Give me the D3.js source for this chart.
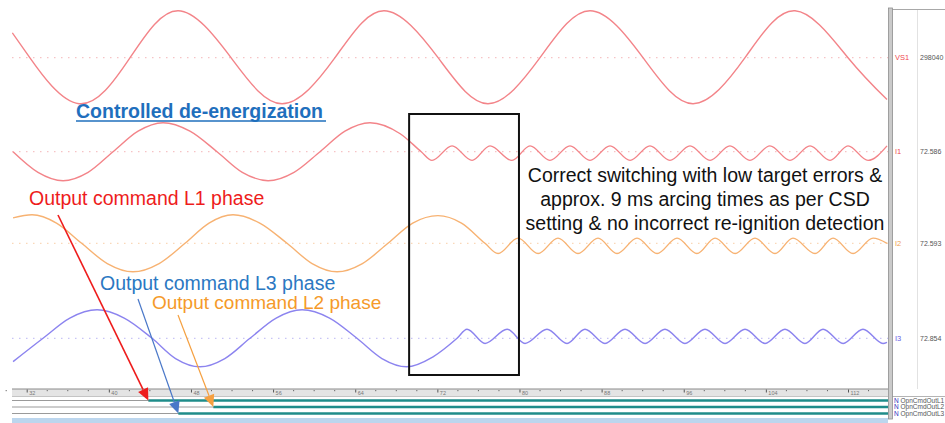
<!DOCTYPE html>
<html><head><meta charset="utf-8">
<script src="https://cdn.jsdelivr.net/npm/d3@7"></script>
<style>html,body{margin:0;padding:0;background:#fff;overflow:hidden}svg{display:block;font-family:"Liberation Sans",Arial,sans-serif}</style>
</head><body><svg id="c" width="945" height="423"></svg>
<script>
// ---------------- DATA (time in ms, values in per-unit of each channel scale) ----------------
const timeTicks = [32, 40, 48, 56, 64, 72, 80, 88, 96, 104, 112];

const channelNames = ["VS1", "I1", "I2", "I3"];
const channelScaleText = ["298040", "72.586", "72.593", "72.854"];

const vs1Time  = [30.6, 32.3, 37.1, 42.07, 46.74, 51.9, 56.87, 62.03, 66.8, 72.07, 76.93, 82.0, 86.87, 92.03, 96.9, 101.97, 106.84, 112.0, 115.8];
const vs1Value = [0.54, 0, -1.0, 0, 1.02, 0, -1.0, 0, 1.02, 0, -1.0, 0, 1.02, 0, -1.0, 0, 1.02, 0, -0.91];

const i1Time  = [30.67, 33.1, 35.54, 37.98, 40.41, 42.85, 45.28, 47.9, 50.54, 53.0, 55.51, 58.04, 60.57, 63.0, 65.44, 68.38, 70.43, 71.48, 73.43, 75.38, 77.13, 79.27, 81.03, 82.97, 84.92, 86.87, 88.82, 90.77, 92.71, 94.66, 96.61, 98.56, 100.5, 102.45, 104.4, 106.35, 108.3, 110.25, 112.0, 113.95, 115.8];
const i1Value = [0, -0.71, -1.0, -0.71, 0, 0.71, 1.0, 0.71, 0, -0.71, -1.0, -0.71, 0, 0.71, 1.0, 0.62, 0, -0.3, 0.2, -0.3, 0.2, -0.3, 0.2, -0.3, 0.2, -0.3, 0.2, -0.3, 0.2, -0.3, 0.2, -0.3, 0.2, -0.3, 0.2, -0.3, 0.2, -0.3, 0.2, -0.3, 0.2];

const i2Time  = [30.67, 32.52, 34.9, 37.35, 39.85, 42.35, 44.9, 47.42, 49.76, 52.10, 54.7, 57.36, 59.8, 62.23, 64.7, 67.19, 69.6, 72.06, 74.35, 76.64, 77.91, 79.86, 81.81, 83.75, 85.70, 87.65, 89.50, 91.45, 93.40, 95.35, 97.29, 99.05, 101.0, 102.94, 104.89, 106.64, 108.79, 110.54, 112.49, 114.44, 115.8];
const i2Value = [0.89, 1.0, 0.71, 0, -0.71, -1.0, -0.71, 0, 0.71, 1.0, 0.71, 0, -0.71, -1.0, -0.71, 0, 0.71, 0.97, 0.71, 0, -0.36, 0.18, -0.36, 0.18, -0.36, 0.18, -0.36, 0.18, -0.36, 0.18, -0.36, 0.18, -0.36, 0.18, -0.36, 0.18, -0.36, 0.18, -0.36, 0.18, 0.0];

const i3Time  = [30.67, 33.59, 36.2, 38.85, 41.5, 44.21, 46.5, 48.88, 51.3, 53.75, 56.3, 58.82, 61.5, 64.17, 66.6, 69.0, 71.58, 73.92, 74.89, 76.65, 78.79, 80.54, 82.68, 84.63, 86.38, 88.33, 90.28, 92.23, 94.17, 96.12, 98.07, 100.02, 101.97, 103.92, 105.86, 107.81, 109.57, 111.52, 113.46, 115.41, 115.8];
const i3Value = [-0.82, 0, 0.71, 1.0, 0.71, 0, -0.71, -1.0, -0.71, 0, 0.71, 1.0, 0.71, 0, -0.71, -1.0, -0.65, 0, 0.32, -0.18, 0.32, -0.18, 0.32, -0.18, 0.32, -0.18, 0.32, -0.18, 0.32, -0.18, 0.32, -0.18, 0.32, -0.18, 0.32, -0.18, 0.32, -0.18, 0.32, -0.18, -0.14];

const digitalNames  = ["OpnCmdOutL1", "OpnCmdOutL2", "OpnCmdOutL3"];
const digitalOnTime = [43.85, 50.18, 46.77];

const boxStart = 69.25, boxEnd = 79.95;
const titleText = "Controlled de-energization";
const noteLines = ["Correct switching with low target errors &", "approx. 9 ms arcing times as per CSD", "setting & no incorrect re-ignition detection"];
const cmdLabels = ["Output command L1 phase", "Output command L2 phase", "Output command L3 phase"];

// ---------------- DRAWING ----------------
const svg = d3.select("#c");
const plotL = 12, plotR = 888;
const x = d3.scaleLinear().domain([32, 112]).range([26.7, 848]);

svg.append("defs").append("clipPath").attr("id", "clip")
  .append("rect").attr("x", plotL).attr("y", 0).attr("width", plotR - plotL).attr("height", 386);

const chStyle = [
  {base: 57.7, amp: 46, color: "#f38489", dot: "#f6c3c5", label: "#f04a50", curve: d3.curveNatural},
  {base: 151.7, amp: 29, color: "#f38489", dot: "#f6c3c5", label: "#f04a50", curve: d3.curveMonotoneX},
  {base: 243.3, amp: 28.5, color: "#f7b272", dot: "#fad8b8", label: "#f0a050", curve: d3.curveMonotoneX},
  {base: 338.3, amp: 28.5, color: "#8c84ef", dot: "#c8c4f6", label: "#6a60e6", curve: d3.curveMonotoneX}
];
const chTimes = [vs1Time, i1Time, i2Time, i3Time];
const chValues = [vs1Value, i1Value, i2Value, i3Value];

const gPlot = svg.append("g").attr("clip-path", "url(#clip)");
chStyle.forEach((s, i) => {
  const y = d3.scaleLinear().domain([-1, 1]).range([s.base + s.amp, s.base - s.amp]);
  gPlot.append("line").attr("x1", plotL).attr("x2", plotR).attr("y1", y(0)).attr("y2", y(0))
    .attr("stroke", s.dot).attr("stroke-width", 1.2).attr("stroke-dasharray", "1.5 5.5");
  const pts = chTimes[i].map((t, k) => [t, chValues[i][k]]);
  const line = d3.line().x(d => x(d[0])).y(d => y(d[1])).curve(s.curve);
  gPlot.append("path").attr("d", line(pts)).attr("fill", "none")
    .attr("stroke", s.color).attr("stroke-width", 1.4);
});

// time axis band
svg.append("rect").attr("x", plotL).attr("y", 389).attr("width", plotR - plotL).attr("height", 7).attr("fill", "#e4e4e4");
svg.append("line").attr("x1", plotL).attr("x2", plotR).attr("y1", 389).attr("y2", 389).attr("stroke", "#8a8a8a").attr("stroke-width", 1);
svg.append("line").attr("x1", plotL).attr("x2", plotR).attr("y1", 396.5).attr("y2", 396.5).attr("stroke", "#c4c4c4").attr("stroke-width", 1);
const minor = d3.range(30, 116, 2).filter(t => !timeTicks.includes(t));
svg.append("g").selectAll("rect").data(minor).join("rect")
  .attr("x", d => x(d) - 0.5).attr("y", 390).attr("width", 1).attr("height", 1.2).attr("fill", "#666");
const axis = d3.axisBottom(x).tickValues(timeTicks).tickSize(3).tickFormat(d3.format("d"));
const gAx = svg.append("g").attr("transform", "translate(0,389.5)").call(axis);
gAx.select(".domain").remove();
gAx.selectAll(".tick line").attr("stroke", "#555");
gAx.selectAll(".tick text").attr("x", 2).attr("y", 1.5).attr("dy", "0.71em")
  .style("text-anchor", "start").attr("fill", "#777").style("font-size", "5.5px").style("font-family", "'Liberation Sans',Arial,sans-serif");

// digital channels
const rowY = [400.5, 407, 413.5];
digitalNames.forEach((n, i) => {
  svg.append("line").attr("x1", plotL).attr("x2", plotR).attr("y1", rowY[i]).attr("y2", rowY[i]).attr("stroke", "#9a9a9a").attr("stroke-width", 1);
  svg.append("line").attr("x1", x(digitalOnTime[i])).attr("x2", plotR).attr("y1", rowY[i]).attr("y2", rowY[i]).attr("stroke", "#1f8c8a").attr("stroke-width", 2.6);
  const t = svg.append("text").attr("x", 894).attr("y", rowY[i] + 2.3).style("font-size", "6.5px");
  t.append("tspan").attr("fill", "#3030c0").text("N ");
  t.append("tspan").attr("fill", "#555").text(n);
});
svg.append("rect").attr("x", plotL).attr("y", 418).attr("width", plotR - plotL).attr("height", 5).attr("fill", "#bcd6ee");

// right panel
svg.append("line").attr("x1", 892).attr("x2", 945).attr("y1", 9.5).attr("y2", 9.5).attr("stroke", "#a8a8a8");
svg.append("line").attr("x1", 917.5).attr("x2", 917.5).attr("y1", 10).attr("y2", 389).attr("stroke", "#e2e2e2");
svg.append("line").attr("x1", 892).attr("x2", 945).attr("y1", 396.5).attr("y2", 396.5).attr("stroke", "#b4b4b4");
svg.append("rect").attr("x", 888.5).attr("y", 8).attr("width", 4).attr("height", 411).attr("fill", "#cacaca").attr("stroke", "#8e8e8e").attr("stroke-width", 0.8);
chStyle.forEach((s, i) => {
  svg.append("text").attr("x", 895).attr("y", s.base + 2.6).attr("fill", s.label).style("font-size", "7.5px").text(channelNames[i]);
  svg.append("text").attr("x", 920).attr("y", s.base + 2.6).attr("fill", "#555").style("font-size", "7px").text(channelScaleText[i]);
});

// box
svg.append("rect").attr("x", x(boxStart)).attr("y", 114).attr("width", x(boxEnd) - x(boxStart)).attr("height", 261)
  .attr("fill", "none").attr("stroke", "#111").attr("stroke-width", 2);

// title
svg.append("text").attr("x", 76).attr("y", 118).attr("fill", "#1f6fbd").style("font-size", "19.5px").style("font-weight", "bold").text(titleText);
svg.append("line").attr("x1", 76).attr("x2", 326).attr("y1", 121).attr("y2", 121).attr("stroke", "#1f6fbd").attr("stroke-width", 1.3);

// note
noteLines.forEach((l, i) => {
  svg.append("text").attr("x", 705).attr("y", 182 + i * 24).attr("text-anchor", "middle").attr("fill", "#111").style("font-size", "19.5px").text(l);
});

// command labels + arrows
function arrow(x1, y1, x2, y2, color, w) {
  const dx = x2 - x1, dy = y2 - y1, L = Math.hypot(dx, dy), ux = dx / L, uy = dy / L;
  const hl = 12, hw = 5.5;
  const bx = x2 - ux * hl, by = y2 - uy * hl;
  svg.append("line").attr("x1", x1).attr("y1", y1).attr("x2", bx).attr("y2", by).attr("stroke", color).attr("stroke-width", w);
  svg.append("path").attr("d", `M${x2},${y2}L${bx - uy * hw},${by + ux * hw}L${bx + uy * hw},${by - ux * hw}Z`).attr("fill", color);
}
svg.append("text").attr("x", 29).attr("y", 205).attr("fill", "#ee1c1c").style("font-size", "19.5px").text(cmdLabels[0]);
svg.append("text").attr("x", 100).attr("y", 290).attr("fill", "#2b78c2").style("font-size", "19.5px").text(cmdLabels[2]);
svg.append("text").attr("x", 152).attr("y", 308.5).attr("fill", "#f59a2a").style("font-size", "19px").text(cmdLabels[1]);
arrow(58, 215, x(digitalOnTime[0]), rowY[0], "#ee1c1c", 1.6);
arrow(138, 299, x(digitalOnTime[2]), rowY[2], "#4a78c8", 1.2);
arrow(178, 315, x(digitalOnTime[1]), rowY[1], "#f5a040", 1.2);
</script></body></html>
